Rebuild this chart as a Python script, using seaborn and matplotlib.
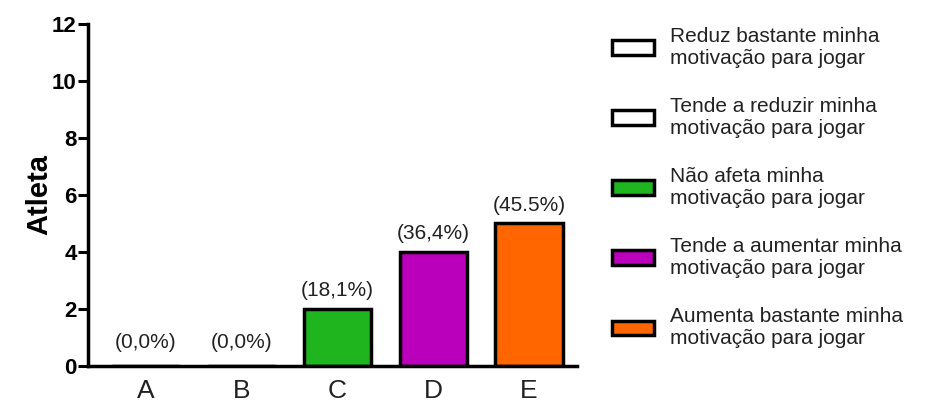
import matplotlib
matplotlib.use("Agg")
import matplotlib.pyplot as plt
from matplotlib.patches import Patch
import pandas as pd
import seaborn as sns

# Data
categorias = ["A", "B", "C", "D", "E"]
atletas = [0, 0, 2, 4, 5]
percentuais = ["(0,0%)", "(0,0%)", "(18,1%)", "(36,4%)", "(45.5%)"]
legenda = [
    "Reduz bastante minha\nmotivação para jogar",
    "Tende a reduzir minha\nmotivação para jogar",
    "Não afeta minha\nmotivação para jogar",
    "Tende a aumentar minha\nmotivação para jogar",
    "Aumenta bastante minha\nmotivação para jogar",
]
cores = ["#ffffff", "#ffffff", "#1fb51f", "#bb00bb", "#ff6600"]

sns.set_style("white")
plt.rcParams["font.family"] = ["Liberation Sans", "DejaVu Sans"]
plt.rcParams["text.color"] = "black"
plt.rcParams["xtick.color"] = "black"
plt.rcParams["ytick.color"] = "black"
plt.rcParams["axes.labelcolor"] = "black"

df = pd.DataFrame({"categoria": categorias, "atletas": atletas})

fig = plt.figure(figsize=(9.26, 4.04), dpi=100)
ax = fig.add_axes([0.095, 0.094, 0.528, 0.847])

sns.barplot(data=df, x="categoria", y="atletas", hue="categoria",
            palette=cores, saturation=1, edgecolor="black", linewidth=2.5,
            width=0.7, legend=False, ax=ax)

for i, (v, txt) in enumerate(zip(atletas, percentuais)):
    pad = 0.5 if v == 0 else 0.3
    ax.text(i, v + pad, txt, ha="center", va="bottom", fontsize=15, color="#222222")

ax.set_ylim(0, 12)
ax.set_xlim(-0.6, 4.5)
ax.set_yticks(range(0, 13, 2))
ax.set_xlabel("")
ax.set_ylabel("Atleta", fontsize=21, fontweight="bold", labelpad=-1)
ax.tick_params(axis="y", left=True, length=7, width=2.2, labelsize=16, pad=1)
ax.tick_params(axis="x", bottom=False, labelsize=19, pad=6, labelcolor="#222222")
for lbl in ax.get_yticklabels():
    lbl.set_fontweight("bold")
sns.despine(ax=ax)
for s in ["left", "bottom"]:
    ax.spines[s].set_linewidth(2.5)
    ax.spines[s].set_color("black")

handles = [Patch(facecolor=c, edgecolor="black", linewidth=2.5) for c in cores]
fig.legend(handles, legenda, loc="upper left", bbox_to_anchor=(0.652, 0.955),
           frameon=False, fontsize=15, labelcolor="#222222",
           handlelength=2.0, handleheight=0.7, handletextpad=0.8,
           labelspacing=1.4, borderaxespad=0)

fig.savefig("out.png", dpi=100)
